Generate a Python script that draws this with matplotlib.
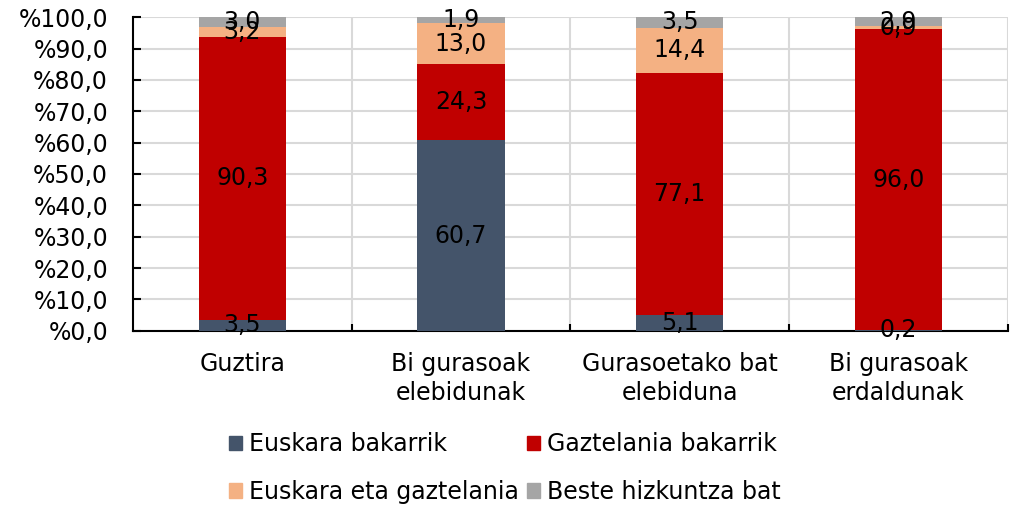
import matplotlib.pyplot as plt
import matplotlib as mpl
from matplotlib.patches import Patch
import numpy as np

mpl.rcParams.update({'font.size': 17, 'font.family': 'DejaVu Sans'})

categories = ["Guztira", "Bi gurasoak\nelebidunak", "Gurasoetako bat\nelebiduna", "Bi gurasoak\nerdaldunak"]
series_names = ["Euskara bakarrik", "Gaztelania bakarrik", "Euskara eta gaztelania", "Beste hizkuntza bat"]
euskara = [3.5, 60.7, 5.1, 0.2]
gaztelania = [90.3, 24.3, 77.1, 96.0]
biak = [3.2, 13.0, 14.4, 0.9]
beste = [3.0, 1.9, 3.5, 2.9]
colors = ["#44546A", "#C00000", "#F4B183", "#A5A5A5"]

series = [euskara, gaztelania, biak, beste]

fig = plt.figure(figsize=(10.24, 5.05), dpi=100)
ax = fig.add_axes([0.130, 0.345, 0.854, 0.621])

x = np.arange(len(categories))
bottom = np.zeros(len(categories))
for vals, col in zip(series, colors):
    vals = np.array(vals)
    ax.bar(x, vals, 0.4, bottom=bottom, color=col, zorder=3)
    for xi, b, v in zip(x, bottom, vals):
        ax.text(xi, b + v / 2, ("%.1f" % v).replace(".", ","), ha="center", va="center",
                fontsize=17, color="black", zorder=5)
    bottom += vals

ax.set_xlim(-0.5, 3.5)
ax.set_ylim(0, 100)
ax.set_yticks(np.arange(0, 101, 10))
ax.set_yticklabels(["%" + ("%.1f" % v).replace(".", ",") for v in np.arange(0, 101, 10)])
ax.set_xticks(x)
ax.set_xticklabels(categories, linespacing=1.3)
ax.set_xticks([0.5, 1.5, 2.5, 3.5], minor=True)

ax.grid(axis="y", color="#D9D9D9", linewidth=1.5, zorder=0)
ax.grid(axis="x", which="minor", color="#D9D9D9", linewidth=1.5, zorder=0)
ax.tick_params(axis="x", which="major", length=0, pad=15)
ax.tick_params(axis="x", which="minor", direction="in", length=5, width=1.5)
ax.tick_params(axis="y", direction="in", length=6, width=1.5, pad=18)

for s in ["top", "right"]:
    ax.spines[s].set_visible(False)
ax.spines["left"].set_linewidth(1.5)
ax.spines["bottom"].set_linewidth(1.5)

handles = [Patch(color=c) for c in colors]
order = [0, 2, 1, 3]
fig.legend([handles[i] for i in order], [series_names[i] for i in order], ncol=2,
           loc="center", bbox_to_anchor=(0.493, 0.073), frameon=False,
           handlelength=0.55, handleheight=0.55, handletextpad=0.3,
           columnspacing=0.35, labelspacing=1.0, fontsize=17)

fig.savefig("out.png", dpi=100)
